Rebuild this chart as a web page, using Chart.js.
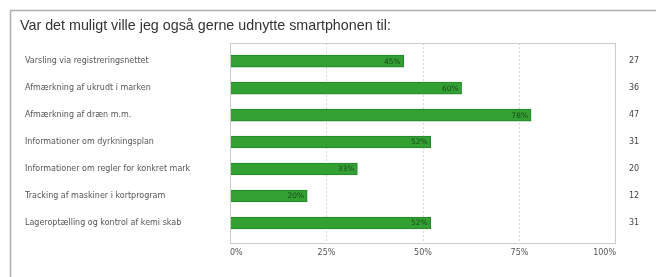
<!DOCTYPE html>
<html>
<head>
<meta charset="utf-8">
<script src="https://cdn.jsdelivr.net/npm/chart.js@4/dist/chart.umd.min.js"></script>
<style>
html,body{margin:0;padding:0;background:#fff;}
#wrap{position:relative;width:656px;height:277px;}
</style>
</head>
<body>
<div id="wrap"><canvas id="c" width="656" height="277"></canvas></div>
<script>
const titleText = "Var det muligt ville jeg også gerne udnytte smartphonen til:";
const categories = [
  "Varsling via registreringsnettet",
  "Afmærkning af ukrudt i marken",
  "Afmærkning af dræn m.m.",
  "Informationer om dyrkningsplan",
  "Informationer om regler for konkret mark",
  "Tracking af maskiner i kortprogram",
  "Lageroptælling og kontrol af kemi skab"
];
const percentValues = [45, 60, 78, 52, 33, 20, 52];
const counts = [27, 36, 47, 31, 20, 12, 31];
const xTicks = [0, 25, 50, 75, 100];

const FONT = "'DejaVu Sans', Verdana, sans-serif";

const framePlugin = {
  id: 'frame',
  beforeDraw(chart) {
    const ctx = chart.ctx;
    ctx.save();
    ctx.strokeStyle = '#b0b0b0';
    ctx.lineWidth = 1.5;
    ctx.beginPath();
    ctx.moveTo(10.5, 277);
    ctx.lineTo(10.5, 10.5);
    ctx.lineTo(656, 10.5);
    ctx.stroke();
    ctx.fillStyle = '#333';
    ctx.font = "14.3px 'Liberation Sans', Arial, sans-serif";
    ctx.textBaseline = 'alphabetic';
    ctx.fillText(titleText, 20, 30);
    ctx.restore();
  },
  afterDatasetsDraw(chart) {
    const ctx = chart.ctx;
    const a = chart.chartArea;
    ctx.save();
    ctx.strokeStyle = '#cccccc';
    ctx.lineWidth = 1;
    ctx.strokeRect(Math.round(a.left) + 0.5, Math.round(a.top) + 0.5,
                   Math.round(a.right - a.left) - 1, Math.round(a.bottom - a.top) - 1);
    const meta = chart.getDatasetMeta(0);
    ctx.fillStyle = '#1a4a1a';
    ctx.font = "7.5px " + FONT;
    ctx.textAlign = 'right';
    ctx.textBaseline = 'middle';
    meta.data.forEach((bar, i) => {
      ctx.fillText(percentValues[i] + '%', bar.x - 3, bar.y + 0.5);
    });
    ctx.restore();
  }
};

const yMin = -0.67, yMax = 6.76;

new Chart(document.getElementById('c'), {
  type: 'bar',
  data: {
    labels: categories,
    datasets: [{
      data: percentValues.map((v, i) => ({x: v, y: i})),
      backgroundColor: '#33a033',
      borderColor: '#25832a',
      borderWidth: 1,
      barThickness: 12,
      yAxisID: 'y'
    }]
  },
  options: {
    indexAxis: 'y',
    responsive: false,
    animation: false,
    layout: {padding: {left: 25, top: 43, right: 0, bottom: 0}},
    plugins: {legend: {display: false}, tooltip: {enabled: false}, title: {display: false}},
    scales: {
      x: {
        type: 'linear',
        min: 0, max: 100,
        afterBuildTicks: s => { s.ticks = xTicks.map(v => ({value: v})); },
        ticks: {
          callback: v => v + '%',
          align: 'inner',
          maxRotation: 0,
          padding: 5,
          color: '#555',
          font: {family: FONT, size: 8}
        },
        grid: {
          color: c => (c.tick && (c.tick.value === 0 || c.tick.value === 100)) ? 'rgba(0,0,0,0)' : '#d8d8d8',
          drawTicks: false, lineWidth: 1
        },
        border: {display: false, dash: [2, 2]},
        afterFit: s => { s.height = 33.5; }
      },
      y: {
        type: 'linear',
        reverse: true,
        offset: false,
        min: yMin, max: yMax,
        afterBuildTicks: s => { s.ticks = categories.map((c, i) => ({value: i})); },
        ticks: {
          callback: v => categories[v],
          crossAlign: 'far',
          color: '#555',
          font: {family: FONT, size: 8},
          autoSkip: false
        },
        grid: {display: false, drawTicks: false, offset: false},
        border: {display: false},
        afterFit: s => { s.width = 205; }
      },
      y2: {
        type: 'linear',
        position: 'right',
        reverse: true,
        offset: false,
        min: yMin, max: yMax,
        afterBuildTicks: s => { s.ticks = counts.map((c, i) => ({value: i})); },
        ticks: {
          callback: v => String(counts[v]),
          crossAlign: 'near',
          padding: 13,
          color: '#444',
          font: {family: FONT, size: 8},
          autoSkip: false
        },
        grid: {display: false, drawTicks: false, offset: false},
        border: {display: false},
        afterFit: s => { s.width = 40; }
      }
    }
  },
  plugins: [framePlugin]
});
</script>
</body>
</html>
